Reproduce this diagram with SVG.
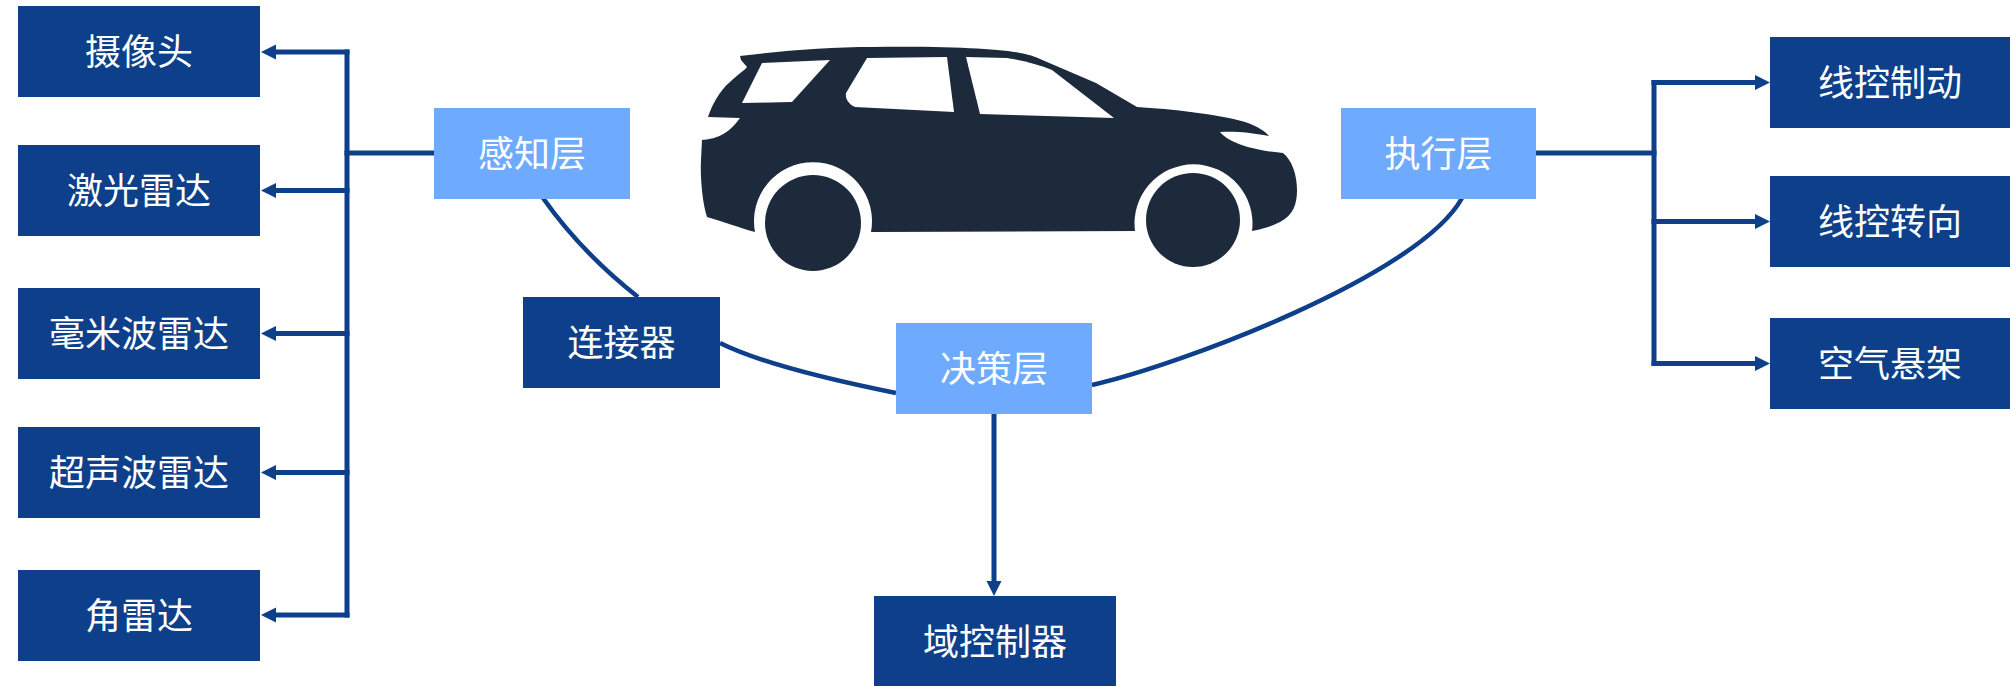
<svg xmlns="http://www.w3.org/2000/svg" width="2010" height="686" viewBox="0 0 2010 686">
  <style>
    .dark { fill: #0d3f8a; }
    .light { fill: #6eaafe; }
    .label { fill: #ffffff; font-family: "Noto Sans CJK SC", "Noto Sans", sans-serif; font-size: 36px; text-anchor: middle; }
    .wire { fill: none; stroke: #0d3f8a; stroke-width: 5; stroke-linecap: square; }
    .curve { fill: none; stroke: #0d3f8a; stroke-width: 4.5; }
    .body { fill: #1c2a3a; }
    .glass { fill: #ffffff; }
  </style>
  <defs>
    <marker id="arrow" markerUnits="userSpaceOnUse" markerWidth="16" markerHeight="16" refX="0" refY="7.5" orient="auto">
      <path d="M0,0 L15,7.5 L0,15 Z" fill="#0d3f8a"/>
    </marker>
    <filter id="soft" x="-5%" y="-5%" width="110%" height="110%">
      <feGaussianBlur stdDeviation="0.7"/>
    </filter>
  </defs>

  <rect width="2010" height="686" fill="#ffffff"/>

  <!-- vehicle silhouette -->
  <g id="car" filter="url(#soft)">
    <path class="body" d="M740,56 C790,50 830,47 873,47 C950,46 1000,49 1020,53 C1032,55 1038,58 1040,59 L1096,83 L1137,107 C1170,109 1220,114 1248,123 C1258,127 1265,131 1269,136 C1250,132 1232,131 1220,132 C1228,142 1250,150 1283,153 C1292,160 1297,175 1297,190 C1297,205 1293,215 1280,222 C1270,227 1260,230 1252,231 A59,59 0 1 0 1135,231 L871,232 A59,59 0 1 0 755,232 C740,228 725,222 707,217 C703,205 700,180 701,160 L702,140 C715,139 728,135 740,118 L708,117 C712,105 720,90 730,82 C737,75 745,70 747,67 L741,60 Z"/>
    <path class="glass" d="M762,63 L830,60 L792,102 L742,103 Z"/>
    <path class="glass" d="M867,58 L947,57 L954,112 L855,107 C848,104 845,98 846,93 Z"/>
    <path class="glass" d="M966,57 L1007,58 C1025,61 1040,65 1052,70 L1114,118 L980,114 Z"/>
    <circle class="body" cx="813" cy="223" r="48"/>
    <circle class="body" cx="1193" cy="220" r="47"/>
  </g>

  <!-- connectors -->
  <g id="connectors">
    <path class="wire" d="M347,52 V615"/>
    <path class="wire" d="M347,153 H434"/>
    <path class="wire" d="M347,52 H276" marker-end="url(#arrow)"/>
    <path class="wire" d="M347,190.5 H276" marker-end="url(#arrow)"/>
    <path class="wire" d="M347,333.5 H276" marker-end="url(#arrow)"/>
    <path class="wire" d="M347,472.5 H276" marker-end="url(#arrow)"/>
    <path class="wire" d="M347,615 H276" marker-end="url(#arrow)"/>

    <path class="wire" d="M1654,82.5 V363.5"/>
    <path class="wire" d="M1536,153 H1654"/>
    <path class="wire" d="M1654,82.5 H1755" marker-end="url(#arrow)"/>
    <path class="wire" d="M1654,221.5 H1755" marker-end="url(#arrow)"/>
    <path class="wire" d="M1654,363.5 H1755" marker-end="url(#arrow)"/>

    <path class="wire" d="M994,414 V581" stroke-linecap="butt" marker-end="url(#arrow)"/>

    <path class="curve" d="M543,198 Q581,252 638,297"/>
    <path class="curve" d="M720,343 Q769,367.5 896,393"/>
    <path class="curve" d="M1092,385 C1180,365 1420,275 1462,198"/>
  </g>

  <!-- perception layer and sensors -->
  <g id="perception">
    <rect class="light" x="434" y="108" width="196" height="91"/>
    <text class="label" x="532" y="166.5">感知层</text>
  </g>
  <g id="camera">
    <rect class="dark" x="18" y="6" width="242" height="91"/>
    <text class="label" x="139" y="64.5">摄像头</text>
  </g>
  <g id="lidar">
    <rect class="dark" x="18" y="145" width="242" height="91"/>
    <text class="label" x="139" y="203.5">激光雷达</text>
  </g>
  <g id="mmwave-radar">
    <rect class="dark" x="18" y="288" width="242" height="91"/>
    <text class="label" x="139" y="346.5">毫米波雷达</text>
  </g>
  <g id="ultrasonic-radar">
    <rect class="dark" x="18" y="427" width="242" height="91"/>
    <text class="label" x="139" y="485.5">超声波雷达</text>
  </g>
  <g id="corner-radar">
    <rect class="dark" x="18" y="570" width="242" height="91"/>
    <text class="label" x="139" y="628.5">角雷达</text>
  </g>

  <!-- connector and decision layer -->
  <g id="connector">
    <rect class="dark" x="523" y="297" width="197" height="91"/>
    <text class="label" x="621.5" y="355.5">连接器</text>
  </g>
  <g id="decision">
    <rect class="light" x="896" y="323" width="196" height="91"/>
    <text class="label" x="994" y="381.5">决策层</text>
  </g>
  <g id="domain-controller">
    <rect class="dark" x="874" y="596" width="242" height="91"/>
    <text class="label" x="995" y="654.5">域控制器</text>
  </g>

  <!-- execution layer and actuators -->
  <g id="execution">
    <rect class="light" x="1341" y="108" width="195" height="91"/>
    <text class="label" x="1438.5" y="166.5">执行层</text>
  </g>
  <g id="brake-by-wire">
    <rect class="dark" x="1770" y="37" width="240" height="91"/>
    <text class="label" x="1890" y="95.5">线控制动</text>
  </g>
  <g id="steer-by-wire">
    <rect class="dark" x="1770" y="176" width="240" height="91"/>
    <text class="label" x="1890" y="234.5">线控转向</text>
  </g>
  <g id="air-suspension">
    <rect class="dark" x="1770" y="318" width="240" height="91"/>
    <text class="label" x="1890" y="376.5">空气悬架</text>
  </g>
</svg>
